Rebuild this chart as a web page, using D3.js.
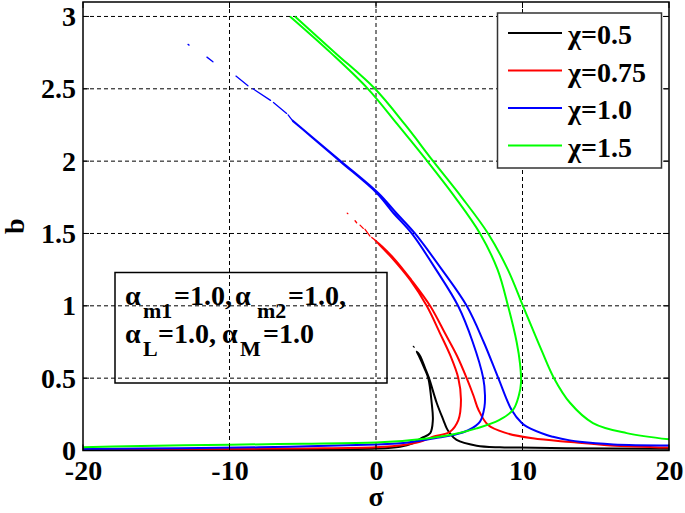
<!doctype html>
<html lang="en">
  <head>
    <meta charset="utf-8">
    <title>b vs sigma</title>
    <script src="https://d3js.org/d3.v7.min.js"></script>
    <style>
      body{ margin: 0; background: #fff; }
      text{ font-family: "Liberation Serif", "Times New Roman", serif; font-weight: bold; }
    </style>
  </head>
  <body>
    <svg id="chart" width="685" height="513"></svg>
    <script>

      //axis ticks
      var xTicks = [-20, -10, 0, 10, 20];
      var yTicks = [0, 0.5, 1, 1.5, 2, 2.5, 3];

      //legend
      var seriesNames = ["χ=0.5", "χ=0.75", "χ=1.0", "χ=1.5"];
      var seriesColors = ["#000000", "#ff0000", "#0000ff", "#00ff00"];

      //each curve: lower branch -> middle branch up -> upper branch down to the right, [sigma, b]
      //null = gap in the line
      var blackCurve = [[-20,0.004],[-10,0.006],[-5,0.008],[0,0.013],[1.64,0.026],[2.5,0.05],[3.1,0.085],[3.7,0.12],
        [3.88,0.21],[3.8,0.33],[3.57,0.5],[3.3,0.57],[2.95,0.65],[2.78,0.683],
        [3.0,0.655],[3.35,0.57],[3.62,0.5],[4.14,0.33],[4.6,0.21],[4.83,0.153],[5.0,0.125],[5.5,0.073],
        [6.87,0.033],[8.46,0.022],[9.8,0.02],[13,0.015],[20,0.012]];
      var redCurve = [[-20,0.007],[-15,0.008],[-10,0.010],[-5,0.014],[0,0.022],[2,0.04],[3,0.06],[3.89,0.095],
        [5.05,0.13],[5.62,0.21],[5.8,0.35],[5.62,0.5],[5.1,0.65],[4.37,0.81],[3.46,1.0],[2.32,1.18],[1.1,1.33],[-0.07,1.455],
        [1.2,1.33],[2.4,1.18],[3.69,1.0],[4.71,0.81],[5.55,0.65],[6.19,0.5],[6.65,0.38],[7.0,0.28],[7.65,0.176],
        [8.9,0.12],[10.7,0.084],[13.3,0.058],[16,0.035],[20,0.02]];
      var blueCurve = [[-20,0.01],[-16,0.013],[-12,0.017],[-8,0.022],[-3.3,0.033],[0,0.042],[1.64,0.05],[3,0.068],
        [4.3,0.09],[5.26,0.107],[6.3,0.14],[7.1,0.2],[7.4,0.3],[7.44,0.38],[7.32,0.5],[6.6,0.75],[5.6,1.0],
        [4.1,1.25],[2.44,1.5],[1.2,1.64],[0.05,1.78],[-2.46,2.0],[-5.7,2.28],
        [-2.4,2.0],[0.15,1.78],[1.4,1.64],[2.66,1.5],[4.5,1.25],[6.19,1.0],[7.35,0.75],[8.35,0.5],[9.26,0.28],
        [9.95,0.19],[10.29,0.165],[11.65,0.107],[12.08,0.095],[13.24,0.07],[13.9,0.06],[16.2,0.042],[20,0.035]];
      var greenCurve = [[-20,0.022],[-17,0.03],[-10,0.04],[-5,0.047],[0,0.056],[1.8,0.066],[3,0.077],[5.05,0.107],
        [6.87,0.153],[8.4,0.21],[9.35,0.28],[9.75,0.38],[9.9,0.47],[9.83,0.6],[9.6,0.75],[9.01,1.0],[8.3,1.25],
        [7.1,1.5],[5.4,1.75],[3.5,2.0],[1.5,2.25],[-0.55,2.5],[-3.1,2.75],[-5.87,3.0],
        null,
        [-5.53,3.0],[-2.8,2.75],[-0.07,2.5],[2.0,2.25],[3.9,2.0],[5.85,1.75],[7.65,1.5],
        [9.0,1.25],[10.03,1.0],[11.31,0.69],[12.15,0.5],[13.24,0.33],[14.81,0.19],[17.11,0.12],[20,0.077]];

      //sparse points near the tip of each backbone
      var blackTip = [[[2.55,0.72],[2.6,0.714]]];
      var redTip = [[[-1.96,1.64],[-1.92,1.637]],[[-1.43,1.588],[-1.32,1.574]],[[-1.09,1.558],[-0.87,1.535]],
        [[-0.75,1.529],[-0.41,1.482]],[[-0.29,1.473],[-0.07,1.455]]];
      var blueTip = [[[-12.83,2.807],[-12.76,2.802]],[[-11.54,2.719],[-11.13,2.687]],[[-9.56,2.588],[-8.74,2.521]],
        [[-8.4,2.5],[-7.2,2.42]],[[-7.0,2.405],[-6.1,2.33]],[[-6.0,2.32],[-5.7,2.28]]];
      var greenTip = [];

      var curves = [blackCurve, redCurve, blueCurve, greenCurve];
      var tips = [blackTip, redTip, blueTip, greenTip];

      var svg = d3.select("#chart");

      var x = d3.scaleLinear().domain([-20, 20]).range([83, 669]);
      var y = d3.scaleLinear().domain([0, 3.1]).range([450.5, 2]);

      var plotLeft = x(-20), plotRight = x(20), plotTop = y(3.1), plotBottom = y(0);

      svg.append("clipPath").attr("id", "plotclip")
        .append("rect")
        .attr("x", plotLeft).attr("y", plotTop)
        .attr("width", plotRight - plotLeft).attr("height", plotBottom - plotTop);

      //dashed grid
      svg.append("g").selectAll("line")
        .data(xTicks.filter(function(d){ return d > -20 && d < 20; }))
        .enter().append("line")
        .attr("x1", function(d){ return x(d); }).attr("x2", function(d){ return x(d); })
        .attr("y1", plotTop).attr("y2", plotBottom)
        .attr("stroke", "#000").attr("stroke-width", 1).attr("stroke-dasharray", "4,3");

      svg.append("g").selectAll("line")
        .data(yTicks.filter(function(d){ return d > 0; }))
        .enter().append("line")
        .attr("x1", plotLeft).attr("x2", plotRight)
        .attr("y1", function(d){ return y(d); }).attr("y2", function(d){ return y(d); })
        .attr("stroke", "#000").attr("stroke-width", 1).attr("stroke-dasharray", "4,3");

      //curves
      var line = d3.line()
        .defined(function(d){ return d !== null; })
        .curve(d3.curveCatmullRom.alpha(0.5))
        .x(function(d){ return x(d[0]); })
        .y(function(d){ return y(d[1]); });

      var plot = svg.append("g").attr("clip-path", "url(#plotclip)");

      curves.forEach(function(c, i){
        plot.append("path")
          .attr("d", line(c))
          .attr("fill", "none")
          .attr("stroke", seriesColors[i])
          .attr("stroke-width", 2)
          .attr("stroke-linejoin", "round");

        tips[i].forEach(function(seg){
          plot.append("path")
            .attr("d", line(seg))
            .attr("fill", "none")
            .attr("stroke", seriesColors[i])
            .attr("stroke-width", 1.3)
            .attr("stroke-linecap", "round");
        });
      });

      //frame and inward ticks
      svg.append("rect")
        .attr("x", plotLeft).attr("y", plotTop)
        .attr("width", plotRight - plotLeft).attr("height", plotBottom - plotTop)
        .attr("fill", "none").attr("stroke", "#000").attr("stroke-width", 1.5);

      var ticks = svg.append("g").attr("stroke", "#000").attr("stroke-width", 1);
      xTicks.forEach(function(d){
        ticks.append("line").attr("x1", x(d)).attr("x2", x(d)).attr("y1", plotBottom).attr("y2", plotBottom - 6);
        ticks.append("line").attr("x1", x(d)).attr("x2", x(d)).attr("y1", plotTop).attr("y2", plotTop + 6);
      });
      yTicks.forEach(function(d){
        ticks.append("line").attr("x1", plotLeft).attr("x2", plotLeft + 6).attr("y1", y(d)).attr("y2", y(d));
        ticks.append("line").attr("x1", plotRight).attr("x2", plotRight - 6).attr("y1", y(d)).attr("y2", y(d));
      });

      //tick labels
      var xAxis = svg.append("g")
        .attr("transform", "translate(0," + plotBottom + ")")
        .call(d3.axisBottom(x).tickValues(xTicks).tickSize(0).tickPadding(10)
          .tickFormat(function(d){ return String(d); }));
      xAxis.select(".domain").remove();
      xAxis.attr("font-size", 28).attr("font-family", null);
      xAxis.selectAll("text").attr("fill", "#000");

      var yAxis = svg.append("g")
        .attr("transform", "translate(" + plotLeft + ",0)")
        .call(d3.axisLeft(y).tickValues(yTicks).tickSize(0).tickPadding(7)
          .tickFormat(function(d){ return String(d); }));
      yAxis.select(".domain").remove();
      yAxis.attr("font-size", 28).attr("font-family", null);
      yAxis.selectAll("text").attr("fill", "#000");

      //axis titles
      svg.append("text")
        .attr("x", x(0)).attr("y", 506)
        .attr("text-anchor", "middle")
        .attr("font-size", 28)
        .text("σ");

      svg.append("text")
        .attr("transform", "translate(24," + ((plotTop + plotBottom) / 2) + ") rotate(-90)")
        .attr("text-anchor", "middle")
        .attr("font-size", 28)
        .text("b");

      //legend
      var legend = svg.append("g");
      legend.append("rect")
        .attr("x", 497.5).attr("y", 13)
        .attr("width", 164).attr("height", 155)
        .attr("fill", "#fff").attr("stroke", "#333").attr("stroke-width", 1.5);

      var legendItems = legend.selectAll("g.item")
        .data(seriesNames)
        .enter().append("g")
        .attr("class", "item")
        .attr("transform", function(d, i){ return "translate(0," + (33 + i * 37.5) + ")"; });

      legendItems.append("line")
        .attr("x1", 508).attr("x2", 562)
        .attr("y1", 0).attr("y2", 0)
        .attr("stroke", function(d, i){ return seriesColors[i]; })
        .attr("stroke-width", 2);

      legendItems.append("text")
        .attr("x", 568).attr("y", 11)
        .attr("font-size", 28)
        .text(function(d){ return d; });

      //parameter box
      var note = svg.append("g");
      note.append("rect")
        .attr("x", 115).attr("y", 272.5)
        .attr("width", 272).attr("height", 110.5)
        .attr("fill", "none").attr("stroke", "#000").attr("stroke-width", 1.5);

      var noteLines = [
        [["α", 125, 0, 28], ["m1", 143, 13, 22], ["=1.0,", 174, 0, 28], ["α", 235, 0, 28], ["m2", 257, 13, 22], ["=1.0,", 288, 0, 28]],
        [["α", 125, 0, 28], ["L", 143, 13, 22], ["=1.0,", 158, 0, 28], ["α", 222, 0, 28], ["M", 240, 13, 22], ["=1.0", 263, 0, 28]]
      ];
      noteLines.forEach(function(parts, li){
        var t = note.append("text");
        parts.forEach(function(p){
          t.append("tspan")
            .attr("x", p[1])
            .attr("y", 305 + li * 38 + p[2])
            .attr("font-size", p[3])
            .text(p[0]);
        });
      });

    </script>
  </body>
</html>
